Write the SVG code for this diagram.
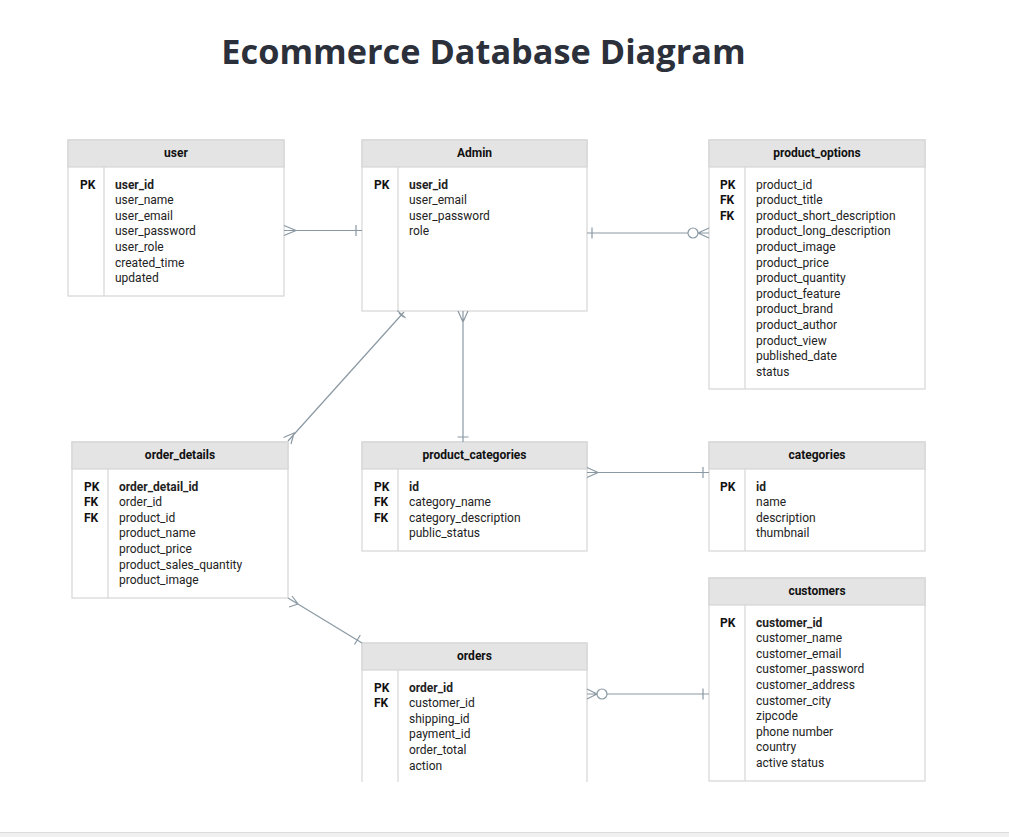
<svg xmlns="http://www.w3.org/2000/svg" width="1009" height="837" viewBox="0 0 1009 837">
<style>
.title{font-family:"Open Sans","Liberation Sans",sans-serif;font-weight:700;font-size:34.3px;fill:#2b303b}
.box{fill:#ffffff;stroke:#d6d6d6;stroke-width:1.2}
.hdr{fill:#e4e4e4;stroke:#d6d6d6;stroke-width:1.2}
.div{stroke:#d6d6d6;stroke-width:1.2}
.h{font-family:Roboto,"Liberation Sans",sans-serif;font-size:12px;font-weight:700;fill:#111;text-anchor:middle}
.k{font-family:Roboto,"Liberation Sans",sans-serif;font-size:12px;font-weight:700;fill:#111}
.f{font-family:Roboto,"Liberation Sans",sans-serif;font-size:12px;fill:#222}
.b{font-weight:700}
.c{fill:none;stroke:#8a99a3;stroke-width:1.2}
.o{fill:#ffffff;stroke:#8a99a3;stroke-width:1.2}
</style>
<rect x="0" y="0" width="1009" height="837" fill="#ffffff"/>
<rect x="0" y="833" width="1009" height="4" fill="#f0f0f0"/>
<line x1="0" y1="832.5" x2="1009" y2="832.5" stroke="#dcdcdc" stroke-width="1"/>
<text class="title" x="483.5" y="64" text-anchor="middle">Ecommerce Database Diagram</text>

<g id="user">
<rect class="box" x="68" y="140" width="216" height="156"/>
<rect class="hdr" x="68" y="140" width="216" height="27"/>
<line class="div" x1="104" y1="167" x2="104" y2="296"/>
<text class="h" x="176" y="157">user</text>
<text class="k" x="80" y="188.5">PK</text>
<text class="f" x="115" y="188.5"><tspan class="b">user_id</tspan><tspan x="115" dy="15.6">user_name</tspan><tspan x="115" dy="15.6">user_email</tspan><tspan x="115" dy="15.6">user_password</tspan><tspan x="115" dy="15.6">user_role</tspan><tspan x="115" dy="15.6">created_time</tspan><tspan x="115" dy="15.6">updated</tspan></text>
</g>

<g id="admin">
<rect class="box" x="362" y="140" width="225" height="171"/>
<rect class="hdr" x="362" y="140" width="225" height="27"/>
<line class="div" x1="398" y1="167" x2="398" y2="311"/>
<text class="h" x="474.5" y="157">Admin</text>
<text class="k" x="374" y="188.5">PK</text>
<text class="f" x="409" y="188.5"><tspan class="b">user_id</tspan><tspan x="409" dy="15.6">user_email</tspan><tspan x="409" dy="15.6">user_password</tspan><tspan x="409" dy="15.6">role</tspan></text>
</g>

<g id="product_options">
<rect class="box" x="709" y="140" width="216" height="249"/>
<rect class="hdr" x="709" y="140" width="216" height="27"/>
<line class="div" x1="745" y1="167" x2="745" y2="389"/>
<text class="h" x="817" y="157">product_options</text>
<text class="k" x="720" y="188.5">PK<tspan x="720" dy="15.6">FK</tspan><tspan x="720" dy="15.6">FK</tspan></text>
<text class="f" x="756" y="188.5">product_id<tspan x="756" dy="15.6">product_title</tspan><tspan x="756" dy="15.6">product_short_description</tspan><tspan x="756" dy="15.6">product_long_description</tspan><tspan x="756" dy="15.6">product_image</tspan><tspan x="756" dy="15.6">product_price</tspan><tspan x="756" dy="15.6">product_quantity</tspan><tspan x="756" dy="15.6">product_feature</tspan><tspan x="756" dy="15.6">product_brand</tspan><tspan x="756" dy="15.6">product_author</tspan><tspan x="756" dy="15.6">product_view</tspan><tspan x="756" dy="15.6">published_date</tspan><tspan x="756" dy="15.6">status</tspan></text>
</g>

<g id="order_details">
<rect class="box" x="72" y="442" width="216" height="156"/>
<rect class="hdr" x="72" y="442" width="216" height="27"/>
<line class="div" x1="108" y1="469" x2="108" y2="598"/>
<text class="h" x="180" y="459">order_details</text>
<text class="k" x="84" y="490.5">PK<tspan x="84" dy="15.6">FK</tspan><tspan x="84" dy="15.6">FK</tspan></text>
<text class="f" x="119" y="490.5"><tspan class="b">order_detail_id</tspan><tspan x="119" dy="15.6">order_id</tspan><tspan x="119" dy="15.6">product_id</tspan><tspan x="119" dy="15.6">product_name</tspan><tspan x="119" dy="15.6">product_price</tspan><tspan x="119" dy="15.6">product_sales_quantity</tspan><tspan x="119" dy="15.6">product_image</tspan></text>
</g>

<g id="product_categories">
<rect class="box" x="362" y="442" width="225" height="109"/>
<rect class="hdr" x="362" y="442" width="225" height="27"/>
<line class="div" x1="398" y1="469" x2="398" y2="551"/>
<text class="h" x="474.5" y="459">product_categories</text>
<text class="k" x="374" y="490.5">PK<tspan x="374" dy="15.6">FK</tspan><tspan x="374" dy="15.6">FK</tspan></text>
<text class="f" x="409" y="490.5"><tspan class="b">id</tspan><tspan x="409" dy="15.6">category_name</tspan><tspan x="409" dy="15.6">category_description</tspan><tspan x="409" dy="15.6">public_status</tspan></text>
</g>

<g id="categories">
<rect class="box" x="709" y="442" width="216" height="109"/>
<rect class="hdr" x="709" y="442" width="216" height="27"/>
<line class="div" x1="745" y1="469" x2="745" y2="551"/>
<text class="h" x="817" y="459">categories</text>
<text class="k" x="720" y="490.5">PK</text>
<text class="f" x="756" y="490.5"><tspan class="b">id</tspan><tspan x="756" dy="15.6">name</tspan><tspan x="756" dy="15.6">description</tspan><tspan x="756" dy="15.6">thumbnail</tspan></text>
</g>

<g id="customers">
<rect class="box" x="709" y="578" width="216" height="203"/>
<rect class="hdr" x="709" y="578" width="216" height="27"/>
<line class="div" x1="745" y1="605" x2="745" y2="781"/>
<text class="h" x="817" y="595">customers</text>
<text class="k" x="720" y="626.5">PK</text>
<text class="f" x="756" y="626.5"><tspan class="b">customer_id</tspan><tspan x="756" dy="15.6">customer_name</tspan><tspan x="756" dy="15.6">customer_email</tspan><tspan x="756" dy="15.6">customer_password</tspan><tspan x="756" dy="15.6">customer_address</tspan><tspan x="756" dy="15.6">customer_city</tspan><tspan x="756" dy="15.6">zipcode</tspan><tspan x="756" dy="15.6">phone number</tspan><tspan x="756" dy="15.6">country</tspan><tspan x="756" dy="15.6">active status</tspan></text>
</g>

<g id="orders">
<path class="box" d="M362,782 V643 H587 V782"/>
<rect class="hdr" x="362" y="643" width="225" height="27"/>
<line class="div" x1="398" y1="670" x2="398" y2="782"/>
<text class="h" x="474.5" y="660">orders</text>
<text class="k" x="374" y="691.5">PK<tspan x="374" dy="15.6">FK</tspan></text>
<text class="f" x="409" y="691.5"><tspan class="b">order_id</tspan><tspan x="409" dy="15.6">customer_id</tspan><tspan x="409" dy="15.6">shipping_id</tspan><tspan x="409" dy="15.6">payment_id</tspan><tspan x="409" dy="15.6">order_total</tspan><tspan x="409" dy="15.6">action</tspan></text>
</g>

<g id="connectors">
<!-- user - Admin -->
<path class="c" d="M284,230.5 H362 M284,225.5 L296,230.5 L284,235.5 M356,225 V236"/>
<!-- Admin - product_options -->
<path class="c" d="M587,233 H688 M592,227.5 V238.5 M698,233 L709,228 M698,233 L709,238 M698,233 H709"/>
<circle class="o" cx="693" cy="233" r="5"/>
<!-- Admin - product_categories -->
<path class="c" d="M463,311 V442 M458,311 L463,322 L468,311 M457.5,437 H468.5"/>
<!-- Admin - order_details -->
<path class="c" d="M404,312 L288,441 M399,313 L403.5,317 M397.3,310.6 L405.5,318 M283.5,437.5 L294,433 L291,444"/>
<!-- product_categories - categories -->
<path class="c" d="M587,472.5 H709 M587,467.5 L598,472.5 L587,477.5 M703,467 V478"/>
<!-- order_details - orders -->
<path class="c" d="M288,598 L362,643 M289,607 L298,604 L292,596 M354.5,644.5 L360.3,635"/>
<!-- orders - customers -->
<path class="c" d="M607,694 H709 M587,689 L597,694 L587,699 M587,694 H597 M703,688.5 V699.5"/>
<circle class="o" cx="602" cy="694" r="5"/>
</g>
</svg>
